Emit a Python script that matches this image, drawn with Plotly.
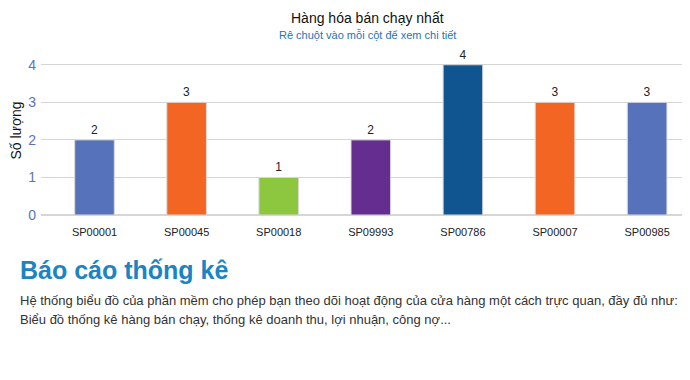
import plotly.graph_objects as go

categories = ["SP00001", "SP00045", "SP00018", "SP09993", "SP00786", "SP00007", "SP00985"]
values = [2, 3, 1, 2, 4, 3, 3]
colors = ["#5572ba", "#f26522", "#8dc63f", "#662d91", "#10558f", "#f26522", "#5572ba"]
y_ticks = [0, 1, 2, 3, 4]

fig = go.Figure()
fig.add_trace(go.Bar(
    x=list(range(len(categories))), y=values,
    width=0.43,
    marker=dict(color=colors, line=dict(color="#d9d9d9", width=1)),
    text=[str(v) for v in values], textposition="outside",
    textfont=dict(family="Liberation Sans, Arial", size=12, color="#222"),
    cliponaxis=False, hoverinfo="skip",
))

fig.update_layout(
    width=690, height=380,
    margin=dict(l=33, r=11, t=38, b=173),
    paper_bgcolor="white", plot_bgcolor="white",
    showlegend=False,
    font=dict(family="Liberation Sans, Arial"),
    xaxis=dict(
        range=[-0.581, 6.433],
        tickmode="array", tickvals=list(range(len(categories))), ticktext=categories,
        tickfont=dict(size=11, color="#222"),
        showgrid=False, zeroline=False, showline=False, ticks="",
        ticklabelstandoff=9,
        automargin=False,
    ),
    yaxis=dict(
        range=[0, 4.5],
        tickmode="array", tickvals=y_ticks,
        tickfont=dict(size=14, color="#5b73bd"),
        showgrid=True, gridcolor="#d6d6d6", gridwidth=1,
        zeroline=True, zerolinecolor="#d6d6d6",
        ticks="", ticklabelstandoff=4,
        automargin=False,
        title=dict(text="Số lượng", font=dict(size=14, color="#111"), standoff=12),
    ),
)

fig.add_annotation(text="Hàng hóa bán chạy nhất", xref="paper", yref="paper",
                   x=0.505, y=1, yshift=28, xanchor="center", yanchor="middle",
                   showarrow=False, font=dict(size=14, color="#111"))
fig.add_annotation(text="Rê chuột vào mỗi cột để xem chi tiết", xref="paper", yref="paper",
                   x=0.505, y=1, yshift=11, xanchor="center", yanchor="middle",
                   showarrow=False, font=dict(size=11, color="#1a75b5"))

fig.add_annotation(text="<b>Báo cáo thống kê</b>", xref="paper", yref="paper",
                   x=0, xshift=-23, y=0, yshift=-55, xanchor="left", yanchor="middle",
                   showarrow=False, font=dict(size=25, color="#1a84c4"))
fig.add_annotation(text="Hệ thống biểu đồ của phần mềm cho phép bạn theo dõi hoạt động của cửa hàng một cách trực quan, đầy đủ như:",
                   xref="paper", yref="paper",
                   x=0, xshift=-23, y=0, yshift=-85, xanchor="left", yanchor="middle",
                   showarrow=False, font=dict(size=13, color="#333"))
fig.add_annotation(text="Biểu đồ thống kê hàng bán chạy, thống kê doanh thu, lợi nhuận, công nợ...",
                   xref="paper", yref="paper",
                   x=0, xshift=-23, y=0, yshift=-104, xanchor="left", yanchor="middle",
                   showarrow=False, font=dict(size=13, color="#333"))

fig.write_html("out.html")
